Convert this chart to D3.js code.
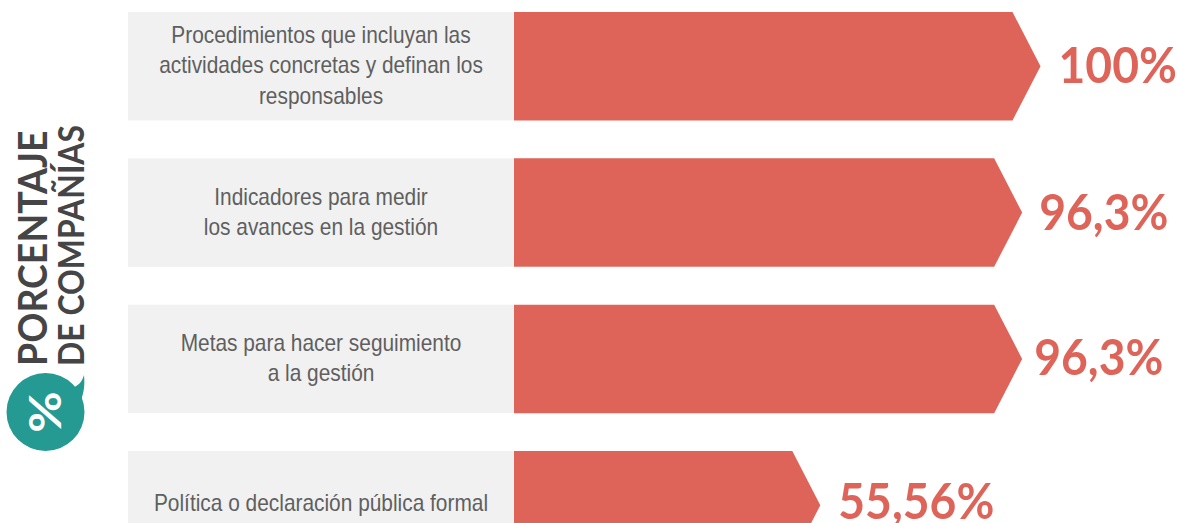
<!DOCTYPE html>
<html><head><meta charset="utf-8">
<script src="https://cdn.jsdelivr.net/npm/d3@7/dist/d3.min.js"></script>
<style>html,body{margin:0;padding:0;background:#fff}svg{display:block}</style>
</head><body><svg id="c" width="1177" height="523"></svg>
<script>
const categories = ["proc","ind","met","pol"];
const labelLines = [
  ["Procedimientos que incluyan las","actividades concretas y definan los","responsables"],
  ["Indicadores para medir","los avances en la gestión"],
  ["Metas para hacer seguimiento","a la gestión"],
  ["Política o declaración pública formal"]
];
const values = [100, 96.3, 96.3, 55.56];
const valueLabels = ["100%","96,3%","96,3%","55,56%"];
const axisTitle = ["PORCENTAJE","DE COMPAÑÍAS"];

const svg = d3.select("#c");
const x = d3.scaleLinear().domain([0,100]).range([545,1040.5]);
const y = d3.scaleBand().domain(categories).range([12,559.5]).paddingInner(0.259).paddingOuter(0);
const x0 = 514, panelLeft = 128, notch = 28;
const rows = categories.map((c,i)=>({c,i,v:values[i],lines:labelLines[i],lab:valueLabels[i]}));

svg.selectAll("rect.panel").data(rows).join("rect").attr("class","panel")
  .attr("x",panelLeft).attr("width",x0-panelLeft)
  .attr("y",d=>y(d.c)).attr("height",y.bandwidth()).attr("fill","#f1f1f1");

const line = d3.line();
svg.selectAll("path.bar").data(rows).join("path").attr("class","bar")
  .attr("fill","#de6459")
  .attr("d",d=>{
    const t=y(d.c),b=t+y.bandwidth(),m=(t+b)/2,e=x(d.v);
    return line([[x0,t],[e-notch,t],[e,m],[e-notch,b],[x0,b]])+"Z";
  });

const lh = 30.5;
rows.forEach(d=>{
  const m = y(d.c)+y.bandwidth()/2 + [-0.8,-0.5,-0.7,-2][d.i];
  d.lines.forEach((s,j)=>{
    svg.append("text").attr("class","lbl")
      .attr("transform",`translate(321,${m+(j-(d.lines.length-1)/2)*lh+8}) scale(0.87,1)`)
      .attr("text-anchor","middle")
      .attr("font-family","'Liberation Sans',Arial,sans-serif")
      .attr("font-size",24).attr("fill","#5f5f5f").text(s);
  });
});

svg.selectAll("text.val").data(rows).join("text").attr("class","val")
  .attr("transform",d=>`translate(${x(d.v)+[18,17,12,18][d.i]},${y(d.c)+y.bandwidth()/2+[17,17,16,14][d.i]}) scale(0.925,1)`)
  .attr("font-family","Lato,sans-serif").attr("font-weight",700)
  .attr("font-size",50).attr("fill","#de6459").text(d=>d.lab);

// rotated axis title
axisTitle.forEach((s,i)=>{
  svg.append("text")
    .attr("transform",`translate(${[47,84][i]},366) rotate(-90) scale(${[0.913,0.887][i]},1)`)
    .attr("font-family","Lato,sans-serif").attr("font-weight",700)
    .attr("font-size",[41,36][i]).attr("fill","#454545").text(s);
});

// speech-bubble icon
svg.append("circle").attr("cx",45.5).attr("cy",412).attr("r",39).attr("fill","#259a93");
svg.append("path").attr("fill","#259a93")
  .attr("d","M72,388 C78,386 82,382 84,375 C85,385 84,394 80,402 Z");
svg.append("text")
  .attr("transform","translate(61,412) rotate(-90) scale(1.15,1)")
  .attr("text-anchor","middle")
  .attr("font-family","Lato,sans-serif").attr("font-weight",700)
  .attr("font-size",44).attr("fill","#fff").text("%");
</script></body></html>
